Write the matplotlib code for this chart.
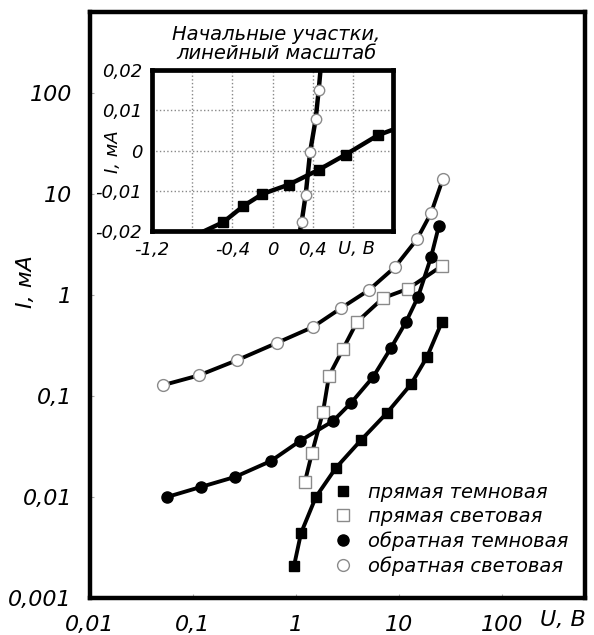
import matplotlib
matplotlib.use('Agg')
import matplotlib.pyplot as plt
from matplotlib.lines import Line2D

# ---------------- data ----------------
# main chart, log-log:  U, B  vs  I, mA
fwd_dark_u = [0.957, 1.12, 1.56, 2.44, 4.28, 7.64, 13.1, 18.7, 26.1]
fwd_dark_i = [0.00208, 0.0044, 0.0100, 0.0194, 0.0366, 0.068, 0.131, 0.243, 0.541]

fwd_light_u = [1.22, 1.43, 1.83, 2.09, 2.86, 3.91, 7.0, 12.2, 26.1]
fwd_light_i = [0.0141, 0.0273, 0.0695, 0.158, 0.292, 0.541, 0.933, 1.15, 1.94]

rev_dark_u = [0.056, 0.12, 0.256, 0.57, 1.09, 2.29, 3.42, 5.6, 8.36, 11.7, 15.3, 20.5, 24.4]
rev_dark_i = [0.0100, 0.0126, 0.0158, 0.0227, 0.0358, 0.0565, 0.0853, 0.154, 0.299,
              0.541, 0.955, 2.38, 4.82]

rev_light_u = [0.051, 0.114, 0.27, 0.65, 1.46, 2.73, 5.11, 9.14, 15.0, 20.5, 26.7]
rev_light_i = [0.128, 0.16, 0.227, 0.335, 0.482, 0.74, 1.12, 1.89, 3.58, 6.49, 14.1]

legend_labels = ['прямая темновая', 'прямая световая',
                 'обратная темновая', 'обратная световая']

main_xticks = [0.01, 0.1, 1, 10, 100]
main_xticklabels = ['0,01', '0,1', '1', '10', '100']
main_yticks = [0.001, 0.01, 0.1, 1, 10, 100]
main_yticklabels = ['0,001', '0,01', '0,1', '1', '10', '100']

# inset, linear scale
inset_dark_u = [-0.49, -0.29, -0.10, 0.16, 0.46, 0.73, 1.05]
inset_dark_i = [-0.0178, -0.0138, -0.0108, -0.0085, -0.0048, -0.0010, 0.0038]
inset_dark_ends_u = [-0.72, 1.18]
inset_dark_ends_i = [-0.0205, 0.0050]

inset_light_u = [0.29, 0.33, 0.375, 0.43, 0.46]
inset_light_i = [-0.0178, -0.0111, -0.0003, 0.0078, 0.0150]
inset_light_ends_u = [0.27, 0.48]
inset_light_ends_i = [-0.0205, 0.0205]

inset_xticks = [-1.2, -0.8, -0.4, 0, 0.4, 0.8, 1.2]
inset_xticklabels = ['-1,2', '', '-0,4', '0', '0,4', '', '']
inset_yticks = [-0.02, -0.01, 0, 0.01, 0.02]
inset_yticklabels = ['-0,02', '-0,01', '0', '0,01', '0,02']

# ---------------- figure ----------------
W, H = 594, 635
fig = plt.figure(figsize=(W / 100, H / 100), dpi=100)
plt.rcParams['font.family'] = ['DejaVu Sans']

def fx(px):
    return px / W

def fy(py):
    return 1 - py / H

ax = fig.add_axes([fx(90), fy(598), (585 - 90) / W, (598 - 12) / H])
ax.set_xscale('log')
ax.set_yscale('log')
ax.set_xlim(0.01, 640)
ax.set_ylim(0.001, 634)

LW = 2.8
ax.plot(fwd_dark_u, fwd_dark_i, '-', color='black', lw=LW, zorder=2)
ax.plot(fwd_light_u, fwd_light_i, '-', color='black', lw=LW, zorder=2)
ax.plot(rev_dark_u, rev_dark_i, '-', color='black', lw=LW, zorder=2)
ax.plot(rev_light_u, rev_light_i, '-', color='black', lw=LW, zorder=2)

h1, = ax.plot(fwd_dark_u, fwd_dark_i, ls='none', marker='s', ms=7.5,
              mfc='black', mec='black', zorder=3)
h2, = ax.plot(fwd_light_u, fwd_light_i, ls='none', marker='s', ms=8,
              mfc='white', mec='#8a8a8a', mew=1.0, zorder=3)
h3, = ax.plot(rev_dark_u, rev_dark_i, ls='none', marker='o', ms=8,
              mfc='black', mec='black', zorder=3)
h4, = ax.plot(rev_light_u, rev_light_i, ls='none', marker='o', ms=8.5,
              mfc='white', mec='#8a8a8a', mew=1.0, zorder=3)

ax.set_xticks(main_xticks)
ax.set_xticklabels(main_xticklabels)
ax.set_yticks(main_yticks)
ax.set_yticklabels(main_yticklabels)
ax.minorticks_off()
ax.tick_params(axis='both', direction='in', length=3, width=0.8, color='#aaaaaa',
               labelsize=16)
ax.tick_params(axis='x', pad=12)
ax.tick_params(axis='y', pad=13)
for lab in ax.get_xticklabels() + ax.get_yticklabels():
    lab.set_fontstyle('oblique')
for sp in ax.spines.values():
    sp.set_linewidth(3.2)

fig.text(fx(26), fy(282), 'I, мА', rotation=90, ha='center', va='center',
         fontsize=16, fontstyle='oblique')
fig.text(fx(540), fy(620), 'U, B', ha='left', va='center',
         fontsize=16, fontstyle='oblique')

leg_handles = [h1, h2, h3, h4]
leg = ax.legend(leg_handles, legend_labels, loc='upper left',
                bbox_to_anchor=(fx(333), fy(483)), bbox_transform=fig.transFigure,
                frameon=False, borderpad=0, borderaxespad=0,
                handlelength=1.0, handletextpad=0.8, labelspacing=0.26,
                prop={'size': 14, 'style': 'oblique'})

# ---------------- inset ----------------
axi = fig.add_axes([fx(152), fy(231), (393 - 152) / W, (231 - 70) / H])
axi.set_xlim(-1.2, 1.2)
axi.set_ylim(-0.02, 0.02)
axi.set_facecolor('white')
axi.set_xticks(inset_xticks)
axi.set_xticklabels(inset_xticklabels)
axi.set_yticks(inset_yticks)
axi.set_yticklabels(inset_yticklabels)
axi.tick_params(axis='both', length=0, labelsize=13)
axi.tick_params(axis='x', pad=7)
axi.tick_params(axis='y', pad=7)
for lab in axi.get_xticklabels() + axi.get_yticklabels():
    lab.set_fontstyle('oblique')
axi.grid(True, color='#888888', ls=':', lw=1.0)
for sp in axi.spines.values():
    sp.set_linewidth(3.4)

ILW = 3.2
axi.plot([inset_dark_ends_u[0]] + inset_dark_u + [inset_dark_ends_u[1]],
         [inset_dark_ends_i[0]] + inset_dark_i + [inset_dark_ends_i[1]],
         '-', color='black', lw=ILW, zorder=2)
axi.plot([inset_light_ends_u[0]] + inset_light_u + [inset_light_ends_u[1]],
         [inset_light_ends_i[0]] + inset_light_i + [inset_light_ends_i[1]],
         '-', color='black', lw=ILW, zorder=2)
axi.plot(inset_dark_u, inset_dark_i, ls='none', marker='s', ms=7.5,
         mfc='black', mec='black', zorder=3)
axi.plot(inset_light_u, inset_light_i, ls='none', marker='o', ms=7.5,
         mfc='white', mec='#8a8a8a', mew=1.0, zorder=3)

fig.text(fx(113), fy(152), 'I, мА', rotation=90, ha='center', va='center',
         fontsize=13, fontstyle='oblique')
fig.text(fx(338), fy(249), 'U, B', ha='left', va='center',
         fontsize=13, fontstyle='oblique')
fig.text(fx(276), fy(44), 'Начальные участки,\nлинейный масштаб',
         ha='center', va='center', multialignment='center', linespacing=1.0,
         fontsize=14, fontstyle='oblique')

fig.savefig('out.png', dpi=100)
